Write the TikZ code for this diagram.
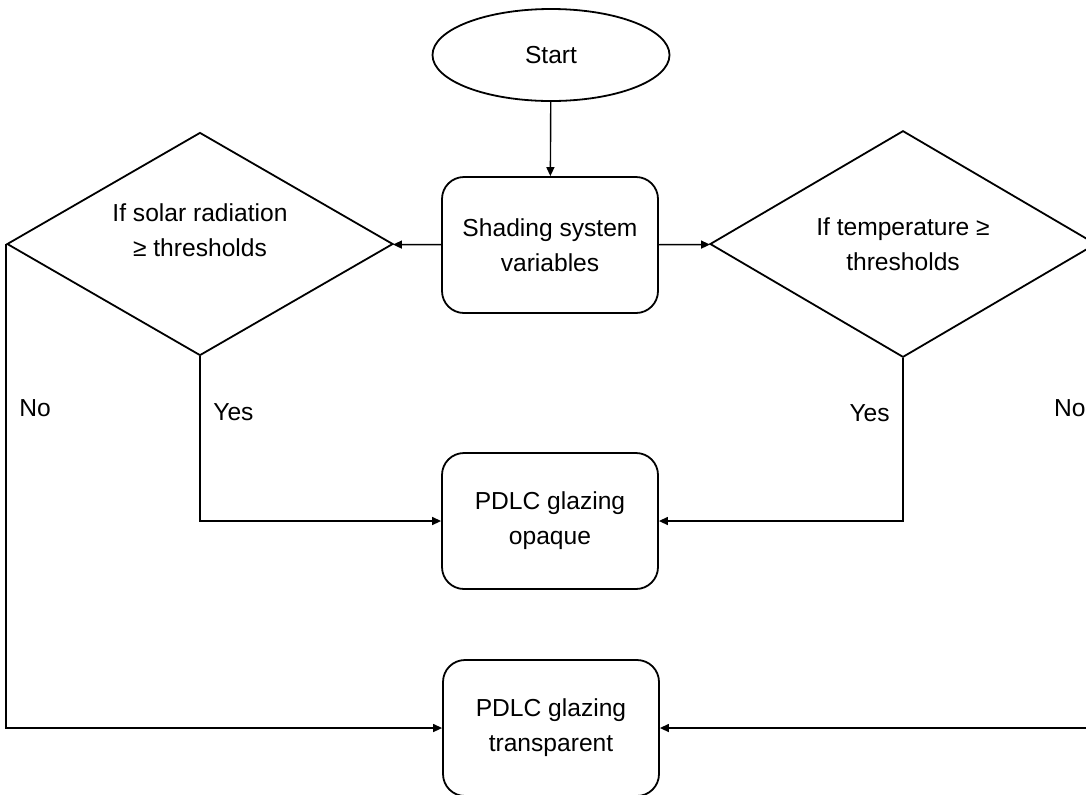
\documentclass[tikz,border=0pt]{standalone}
\usepackage{fontspec}
\setmainfont{Liberation Sans}
\usetikzlibrary{positioning, arrows.meta, shapes, calc}

\begin{document}
\begin{tikzpicture}[x=0.5pt, y=-0.5pt,
    every node/.style={font=\fontsize{12.3}{17.5}\selectfont, align=center},
    process/.style={draw, line width=0.9pt, rectangle, rounded corners=11pt, minimum width=108pt, minimum height=68pt},
    decision/.style={draw, line width=0.9pt, diamond, minimum width=193pt, minimum height=111.5pt, inner sep=0pt},
    flow/.style={line width=0.7pt, -{Triangle[length=4.5pt, width=4pt]}}]

    \clip (0,0) rectangle (1086,794);

    \node[draw, line width=0.9pt, ellipse, minimum width=118.5pt, minimum height=46pt] (start) at (551,55) {Start};
    \node[process] (vars) at (550,245) {Shading system\\variables};
    \node[decision, label={[yshift=7pt]center:If solar radiation\\≥ thresholds}] (solar) at (200,244) {};
    \node[decision] (temp) at (903,244) {If temperature ≥\\thresholds};
    \node[process] (opaque) at (550,521) {PDLC glazing\\opaque};
    \node[process] (transp) at (551,728) {PDLC glazing\\transparent};

    \path[flow]
        (start) edge (vars)
        (vars) edge (solar)
        (vars) edge (temp)
    ;

    \draw[flow] (solar.south) |- node[pos=0.17, right=3pt] {Yes} (opaque.west);
    \draw[flow] (temp.south) |- node[pos=0.17, left=3pt] {Yes} (opaque.east);

    \draw[flow] (solar.west) |- node[pos=0.17, right=3pt] {No} (transp.west);
    \draw[flow] (temp.east) |- node[pos=0.17, left=2pt] {No} (transp.east);

\end{tikzpicture}
\end{document}
